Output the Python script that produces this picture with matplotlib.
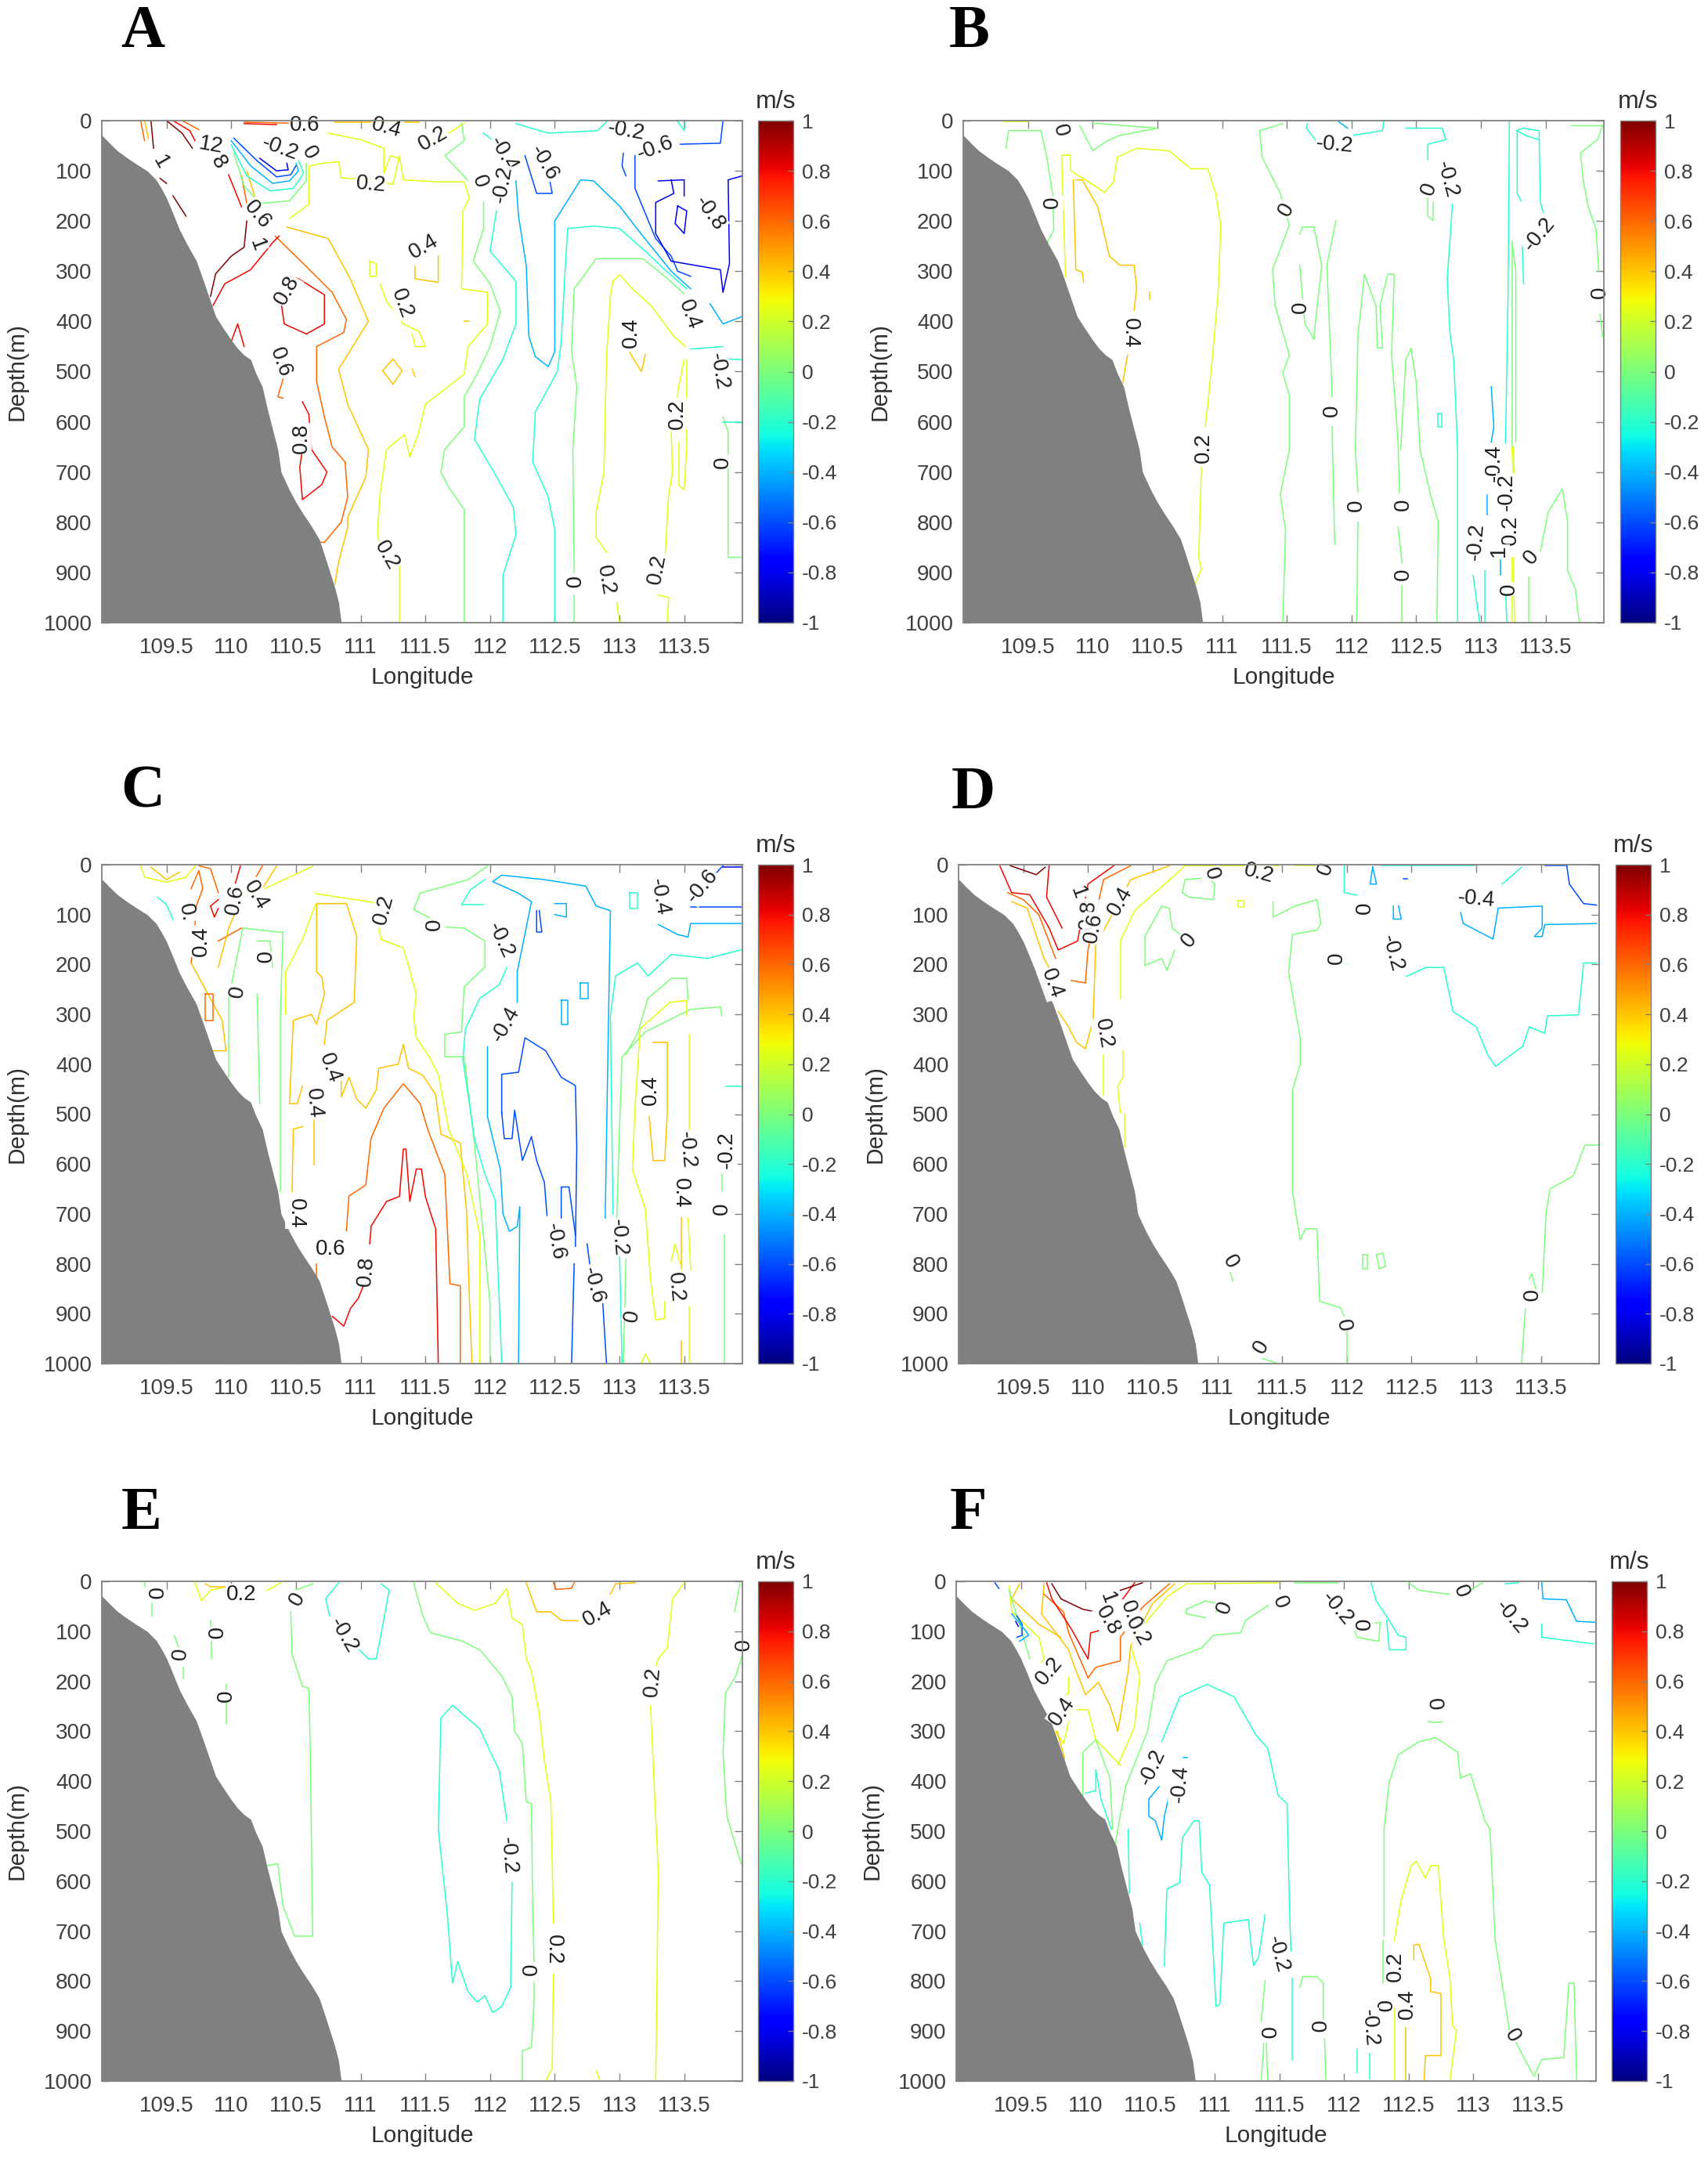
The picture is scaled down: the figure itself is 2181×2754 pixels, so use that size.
import matplotlib
matplotlib.use("Agg")
import matplotlib.pyplot as plt
from matplotlib.cm import ScalarMappable
from matplotlib.colors import Normalize

plt.rcParams['font.family'] = ['Liberation Sans', 'DejaVu Sans']

W, H = 2181, 2754
DPI = 100

lon_ticks = [109.5, 110, 110.5, 111, 111.5, 112, 112.5, 113, 113.5]
lon_tick_labels = ['109.5', '110', '110.5', '111', '111.5', '112', '112.5', '113', '113.5']
depth_ticks = [0, 100, 200, 300, 400, 500, 600, 700, 800, 900, 1000]
cbar_ticks = [-1, -0.8, -0.6, -0.4, -0.2, 0, 0.2, 0.4, 0.6, 0.8, 1]
cbar_tick_labels = ['-1', '-0.8', '-0.6', '-0.4', '-0.2', '0', '0.2', '0.4', '0.6', '0.8', '1']

# sea floor, same for every section
terrain_lon = [109.0, 109.06, 109.12, 109.2, 109.27, 109.35, 109.42, 109.46, 109.5, 109.55, 109.6, 109.66,
               109.73, 109.78, 109.84, 109.88, 109.94, 110.0, 110.05, 110.1, 110.15, 110.19, 110.24, 110.28,
               110.32, 110.36, 110.385, 110.45, 110.5, 110.55, 110.62, 110.68, 110.72, 110.76, 110.8, 110.83, 110.85]
terrain_depth = [29, 45, 60, 75, 87, 100, 118, 135, 154, 185, 217, 247,
                 279, 315, 360, 390, 414, 437, 454, 467, 476, 503, 530, 575,
                 615, 655, 700, 736, 760, 781, 808, 834, 865, 897, 930, 960, 1000]

# contour lines: (level, [(lon, depth), ...])
a_lines = [
    (0.2, [(110.45,195),(110.6,167),(110.6,91),(110.7,85),(110.83,82),(110.85,114),(111.1,118),(111.25,127),(111.3,70),(111.33,118),(111.6,122),(111.8,122),(111.84,154),(111.79,180),(111.78,335),(111.98,342),(111.98,405),(111.83,450),(111.8,505),(111.5,565),(111.45,620),(111.38,670),(111.34,625),(111.2,655),(111.15,745),(111.13,820),(111.15,850)]),
    (0.2, [(111.3,885),(111.3,1000)]),
    (0.2, [(110.75,25),(111.0,38),(111.18,55),(111.18,105),(111.23,70),(111.3,75)]),
    (0.2, [(111.5,55),(111.65,30),(111.8,5)]),
    (0.2, [(111.07,280),(111.12,285),(111.12,310),(111.07,310),(111.07,280)]),
    (0.2, [(111.15,325),(111.2,360),(111.33,405),(111.45,420),(111.5,450),(111.42,450),(111.4,425)]),
    (0.4, [(111.42,290),(111.42,315),(111.6,322),(111.6,270)]),
    (0.4, [(111.8,400),(111.84,400)]),
    (0.4, [(111.17,498),(111.25,475),(111.32,498),(111.25,525),(111.17,498)]),
    (0.4, [(111.4,495),(111.42,510)]),
    (0.4, [(110.43,212),(110.75,235),(110.92,315),(111.06,400),(110.83,495),(110.9,565),(111.06,655),(111.04,710),(110.9,790),(110.9,810),(110.83,879),(110.8,924)]),
    (0.6, [(110.34,230),(110.57,288),(110.78,342),(110.89,396),(110.87,422),(110.66,450),(110.66,520),(110.72,590),(110.78,650),(110.88,680),(110.9,750),(110.85,800),(110.72,840),(110.68,840)]),
    (0.6, [(110.4,515),(110.36,550),(110.4,553)]),
    (0.8, [(110.37,335),(110.41,405),(110.58,425),(110.72,405),(110.72,347),(110.52,315),(110.45,310)]),
    (0.8, [(110.55,560),(110.6,585),(110.62,655),(110.74,700),(110.7,725),(110.55,755),(110.53,690),(110.55,655)]),
    (0.8, [(109.86,368),(109.95,325),(110.15,297),(110.32,243),(110.37,230)]),
    (0.8, [(110.0,440),(110.05,405),(110.1,450)]),
    (1, [(109.84,350),(109.88,305),(110.0,270),(110.1,252),(110.12,200)]),
    (1, [(109.45,115),(109.5,125)]),
    (1, [(109.55,150),(109.65,190)]),
    (1, [(109.38,0),(109.4,55)]),
    (0.6, [(109.3,0),(109.33,40)]),
    (0.4, [(109.33,0),(109.36,35)]),
    (1, [(109.5,0),(109.62,25),(109.7,55)]),
    (0.8, [(109.55,0),(109.68,20),(109.72,40)]),
    (0.6, [(109.62,0),(109.75,18)]),
    (0.8, [(109.98,108),(110.08,172)]),
    (0.6, [(110.08,110),(110.12,165)]),
    (0.4, [(110.12,100),(110.18,150)]),
    (0.6, [(110.1,3),(110.45,5)]),
    (0.8, [(110.1,6),(110.35,8)]),
    (0.4, [(110.8,3),(111.45,3)]),
    (0, [(110.02,65),(110.1,130),(110.22,165),(110.45,160),(110.58,120),(110.58,85)]),
    (-0.2, [(110.0,48),(110.12,110),(110.3,140),(110.48,135),(110.56,105),(110.52,80)]),
    (-0.4, [(110.0,40),(110.15,90),(110.32,125),(110.45,120),(110.52,100),(110.5,85)]),
    (-0.6, [(110.02,35),(110.2,80),(110.35,112),(110.46,108),(110.5,90)]),
    (-0.8, [(110.22,75),(110.35,100),(110.44,98),(110.43,85)]),
    (0, [(111.78,5),(111.8,40),(111.65,70),(111.85,125)]),
    (0, [(111.95,163),(111.95,215),(111.87,280),(112.0,325),(112.08,380),(112.0,450),(111.9,505),(111.8,550),(111.8,610),(111.65,655),(111.62,700),(111.68,730),(111.8,775),(111.8,1000)]),
    (-0.2, [(112.05,180),(112.0,260),(112.2,320),(112.2,405),(112.1,475),(111.92,555),(111.88,635),(112.03,700),(112.18,770),(112.2,825),(112.1,905),(112.1,1000)]),
    (-0.2, [(111.95,25),(112.05,45),(112.1,60)]),
    (-0.4, [(112.2,120),(112.22,190),(112.28,290),(112.3,430),(112.35,470),(112.45,490),(112.5,460),(112.5,300),(112.5,200),(112.7,118),(112.8,120),(113.0,170),(113.15,220),(113.4,300),(113.55,335)]),
    (-0.2, [(113.52,335),(113.35,297),(113.2,260),(113.0,215),(112.8,210),(112.6,215),(112.58,300),(112.55,440),(112.52,500),(112.35,580),(112.33,680),(112.45,750),(112.5,815),(112.5,1000)]),
    (0, [(113.5,345),(113.35,310),(113.18,275),(112.82,275),(112.65,335),(112.63,460),(112.67,530),(112.64,655),(112.65,900)]),
    (0, [(112.65,945),(112.65,1000)]),
    (0.2, [(113.51,450),(113.42,430),(113.25,370),(113.1,335),(113.0,307),(112.95,320),(112.93,350),(112.9,470),(112.88,700),(112.82,780),(112.82,830),(112.9,860)]),
    (0.2, [(112.98,960),(113.0,1000)]),
    (0.4, [(113.08,462),(113.17,500),(113.2,465)]),
    (0.2, [(113.3,945),(113.38,950),(113.37,1000)]),
    (0.2, [(113.4,620),(113.41,700),(113.38,745),(113.35,880)]),
    (0.2, [(113.5,476),(113.45,540),(113.45,560)]),
    (0.2, [(113.46,640),(113.46,727),(113.5,735),(113.52,650),(113.52,476)]),
    (0, [(113.8,590),(113.84,620),(113.84,870),(113.95,870)]),
    (-0.2, [(113.55,455),(113.8,450)]),
    (-0.2, [(113.85,475),(113.95,476)]),
    (-0.2, [(113.8,600),(113.95,600)]),
    (-0.4, [(113.7,365),(113.8,405),(113.95,390)]),
    (-0.6, [(113.8,0),(113.78,45),(113.47,47)]),
    (-0.6, [(113.03,65),(113.02,90),(113.05,110)]),
    (-0.6, [(113.12,70),(113.12,135),(113.28,235),(113.4,270),(113.45,300),(113.55,310)]),
    (-0.8, [(113.4,118),(113.42,145),(113.28,163),(113.28,225),(113.4,280),(113.78,297),(113.8,342),(113.85,285),(113.84,118),(113.95,110)]),
    (-0.8, [(113.3,120),(113.5,118),(113.5,150)]),
    (-0.8, [(113.45,170),(113.43,205),(113.5,225),(113.52,180),(113.45,170)]),
    (-0.6, [(112.27,70),(112.36,145),(112.48,145),(112.44,90)]),
    (-0.2, [(112.2,6),(112.45,25),(112.83,20),(112.9,2)]),
    (-0.2, [(113.45,2),(113.5,20),(113.5,0)]),
]
a_labels = [
    ('0.6',110.57,9,0),('0.4',111.2,15,-15),('0.2',111.56,36,30),('-0.2',113.05,20,-10),('-0.6',113.28,55,20),
    ('-0.4',112.1,68,-60),('-0.6',112.42,84,-60),('0',111.92,122,-70),('-0.2',112.1,127,80),('0.2',111.08,128,-5),
    ('-0.8',113.7,185,-55),('12',109.84,50,-10),('8',109.9,83,-60),('1',109.45,83,-60),('-0.2',110.38,55,-20),
    ('0',110.6,65,-60),('0.6',110.2,188,-50),('1',110.2,248,-70),('0.4',111.49,252,30),('0.8',110.43,338,60),
    ('0.2',111.32,365,-70),('0.4',113.54,387,-70),('0.4',113.09,423,90),('0.6',110.38,481,-70),('-0.2',113.77,499,-80),
    ('0.2',113.45,584,90),('0.8',110.54,633,90),('0',113.8,680,90),('0.2',111.2,866,-60),('0',112.62,920,-90),
    ('0.2',112.89,915,-80),('0.2',113.29,893,80),
]

b_lines = [
    (0.2, [(109.79,311),(109.76,69),(109.83,69),(109.83,100),(110.0,127),(110.09,143),(110.16,123),(110.19,73),(110.34,55),(110.59,60),(110.76,96),(110.89,96),(110.95,145),(110.99,208),(110.97,342),(110.93,458),(110.89,566),(110.87,610)]),
    (0.2, [(110.84,691),(110.82,870),(110.84,893),(110.79,924)]),
    (0.4, [(109.87,118),(109.92,118),(110.04,172),(110.13,270),(110.21,288),(110.32,288),(110.34,333),(110.32,378)]),
    (0.4, [(110.27,467),(110.23,525)]),
    (0.4, [(109.85,118),(109.87,297),(109.92,302),(109.93,322)]),
    (0.4, [(110.44,342),(110.44,355)]),
    (0.2, [(109.3,2),(109.5,2)]),
    (0, [(109.33,55),(109.35,20),(109.6,20),(109.64,65),(109.69,145),(109.7,217),(109.64,248)]),
    (0, [(109.9,10),(109.96,40),(110.0,60),(110.1,42),(110.2,30),(110.5,15),(110.0,5)]),
    (0, [(111.29,20),(111.31,73),(111.45,145),(111.52,208),(111.39,297),(111.41,369),(111.52,467),(111.47,503),(111.52,548),(111.52,655),(111.45,745),(111.49,816),(111.47,1000)]),
    (0, [(111.29,20),(111.47,6)]),
    (0, [(111.6,226),(111.62,212),(111.71,212),(111.77,288),(111.72,405),(111.71,436),(111.64,405),(111.6,288)]),
    (0, [(111.88,199),(111.81,288),(111.84,476),(111.85,550)]),
    (0, [(111.85,610),(111.87,843)]),
    (0, [(112.04,1000),(112.05,800)]),
    (0, [(112.05,740),(112.03,655),(112.05,430),(112.1,306),(112.19,369),(112.2,453),(112.24,453),(112.22,369),(112.28,306),(112.33,306),(112.31,467),(112.36,640),(112.37,740)]),
    (0, [(112.38,655),(112.42,476),(112.46,453),(112.5,521),(112.53,655),(112.61,745),(112.67,799),(112.66,1000)]),
    (0, [(112.36,810),(112.39,880)]),
    (0, [(112.39,925),(112.39,1000)]),
    (0, [(112.59,155),(112.59,190),(112.63,199),(112.63,163)]),
    (-0.2, [(112.42,15),(112.7,15),(112.73,38),(112.59,47),(112.59,78)]),
    (-0.2, [(111.66,6),(111.65,15),(111.75,47)]),
    (-0.2, [(112.02,29),(112.24,20),(112.25,2)]),
    (-0.4, [(111.9,2),(111.97,15)]),
    (-0.2, [(112.78,167),(112.74,315),(112.76,422),(112.79,476),(112.82,655),(112.82,1000)]),
    (-0.2, [(112.67,584),(112.7,584),(112.7,610),(112.67,610),(112.67,584)]),
    (-0.2, [(113.22,0),(113.21,342),(113.19,642)]),
    (-0.2, [(113.19,930),(113.2,1000)]),
    (-0.2, [(113.28,20),(113.28,145),(113.31,160)]),
    (-0.2, [(113.32,252),(113.33,325)]),
    (-0.2, [(113.45,38),(113.46,163),(113.5,199)]),
    (-0.2, [(113.28,20),(113.32,15),(113.45,20),(113.45,38),(113.35,30),(113.28,20)]),
    (0.2, [(113.24,650),(113.25,710)]),
    (0.2, [(113.25,650),(113.26,710)]),
    (0, [(113.24,240),(113.24,650)]),
    (0, [(113.24,240),(113.27,300),(113.27,640)]),
    (0.2, [(113.24,870),(113.24,1000)]),
    (0.2, [(113.25,870),(113.26,1000)]),
    (-0.4, [(113.08,530),(113.1,610),(113.08,640)]),
    (-0.4, [(113.05,745),(113.05,785)]),
    (-0.4, [(113.15,875),(113.15,905)]),
    (-0.2, [(113.03,897),(113.03,1000)]),
    (-0.2, [(112.94,906),(112.99,1000)]),
    (0, [(113.37,1000),(113.37,910)]),
    (0, [(113.46,857),(113.52,780),(113.63,733),(113.67,800),(113.67,897),(113.73,933),(113.76,1000)]),
    (0, [(113.7,10),(113.94,10),(113.9,38),(113.77,64),(113.79,118),(113.83,172),(113.89,217),(113.91,300)]),
    (0, [(113.92,385),(113.94,430)]),
]
b_labels = [
    ('0',109.75,20,-75),('-0.2',111.87,48,-5),('-0.2',112.74,118,-75),('0',112.6,136,70),('0',109.69,163,90),
    ('0',111.5,178,60),('-0.2',113.45,226,50),('0',113.92,342,90),('0',111.61,371,90),('0.4',110.29,424,-90),
    ('0',111.85,577,90),('0.2',110.86,651,90),('-0.4',113.1,682,90),('-0.2',113.2,740,90),('0',112.04,767,90),
    ('0',112.4,765,90),('-0.2',112.96,839,85),('0.2',113.23,816,90),('1',113.14,857,90),('0',113.39,870,50),
    ('0',112.4,904,90),('0',113.22,933,90),
]

c_lines = [
    (0.8, [(110.78,905),(110.87,925),(110.92,890),(110.98,870),(111.02,845)]),
    (0.8, [(111.07,760),(111.08,730),(111.08,725),(111.2,675),(111.3,665),(111.33,570),(111.35,570),(111.38,675),(111.43,610),(111.47,610),(111.5,665),(111.58,730),(111.6,1000)]),
    (0.6, [(110.89,734),(110.91,664),(111.04,642),(111.08,549),(111.18,488),(111.33,439),(111.46,479),(111.52,532),(111.65,620),(111.69,840),(111.77,844),(111.77,1000)]),
    (0.6, [(110.66,840),(110.66,800)]),
    (0.4, [(110.55,444),(110.51,479),(110.45,479),(110.48,312),(110.62,300),(110.66,320),(110.72,259),(110.7,225),(110.66,215),(110.66,78),(110.89,78),(110.97,144),(110.95,276),(110.74,312),(110.72,360)]),
    (0.4, [(110.85,426),(110.85,466),(110.91,426),(110.97,470),(111.04,488),(111.12,452),(111.14,408),(111.29,400),(111.33,360),(111.37,408),(111.48,422),(111.58,461),(111.62,540),(111.77,558),(111.82,700),(111.84,866),(111.86,1000)]),
    (0.4, [(110.47,655),(110.48,530),(110.55,525)]),
    (0.4, [(110.64,505),(110.64,602)]),
    (0.2, [(109.98,65),(110.2,55),(110.63,3)]),
    (0.2, [(110.65,58),(111.08,75),(111.14,78)]),
    (0.2, [(111.14,127),(111.16,150),(111.33,167),(111.43,259),(111.41,303),(111.43,347),(111.53,385),(111.6,420),(111.68,530),(111.82,620),(111.92,740),(111.92,1000)]),
    (0.2, [(110.42,300),(110.42,215),(110.55,150),(110.65,80)]),
    (0, [(111.98,3),(111.83,30),(111.46,57),(111.41,90),(111.58,113)]),
    (0, [(111.65,125),(111.8,127),(111.96,153),(111.96,205),(111.8,245),(111.78,335),(111.65,340),(111.65,385),(111.8,385),(111.88,560),(112.0,880),(112.0,1000)]),
    (-0.2, [(111.96,30),(111.85,50),(111.78,80),(111.95,80)]),
    (-0.2, [(112.13,206),(112.07,241),(111.92,268),(111.81,329),(111.79,391),(111.88,549),(111.96,620),(112.04,673),(112.09,1000)]),
    (-0.4, [(112.21,276),(112.21,215),(112.32,74),(112.21,56),(112.02,34),(112.09,21),(112.42,30),(112.74,43),(112.82,83),(112.93,92),(112.91,391),(112.89,708)]),
    (-0.4, [(111.98,365),(111.98,505),(112.08,611),(112.1,700),(112.15,735),(112.21,725),(112.23,685),(112.22,1000)]),
    (-0.6, [(112.09,499),(112.09,420),(112.22,416),(112.27,347),(112.43,373),(112.55,426),(112.66,443),(112.67,567),(112.66,765)]),
    (-0.6, [(112.65,800),(112.63,1000)]),
    (-0.6, [(112.09,496),(112.11,549),(112.17,549),(112.19,492),(112.25,593),(112.32,545),(112.36,593),(112.42,637),(112.44,703)]),
    (-0.6, [(112.55,708),(112.55,646),(112.61,646),(112.66,743)]),
    (-0.4, [(112.7,237),(112.7,268),(112.76,268),(112.76,237),(112.7,237)]),
    (-0.4, [(112.55,272),(112.55,320),(112.6,320),(112.6,272),(112.55,272)]),
    (-0.6, [(112.36,92),(112.36,135),(112.4,135),(112.38,92)]),
    (-0.4, [(112.5,78),(112.59,78),(112.59,105),(112.5,100)]),
    (-0.2, [(113.08,56),(113.14,56),(113.14,88),(113.08,88),(113.08,56)]),
    (-0.2, [(113.95,170),(113.68,188),(113.4,180),(113.22,223),(113.14,197),(112.97,223),(112.93,303),(112.95,700)]),
    (-0.2, [(113.0,770),(113.02,1000)]),
    (-0.6, [(112.87,875),(112.9,1000)]),
    (-0.6, [(112.75,760),(112.77,800)]),
    (-0.4, [(113.3,120),(113.45,140),(113.53,145),(113.55,118),(113.95,118)]),
    (-0.6, [(113.55,85),(113.95,85)]),
    (-0.8, [(113.8,5),(113.95,5)]),
    (-0.6, [(113.8,2),(113.7,30)]),
    (-0.2, [(113.82,445),(113.95,445)]),
    (0, [(113.79,303),(113.78,285),(113.55,290),(113.2,335),(113.02,385),(113.0,530),(112.98,700),(112.97,745)]),
    (0, [(113.05,790),(113.03,1000)]),
    (0, [(113.81,1000),(113.81,743)]),
    (0, [(113.79,620),(113.79,655)]),
    (0, [(113.53,270),(113.52,228),(113.4,228),(113.22,268),(113.14,338),(113.05,380)]),
    (0.2, [(113.52,303),(113.52,272),(113.39,276),(113.16,329),(113.12,488),(113.1,611),(113.2,690),(113.24,831),(113.28,912),(113.35,910),(113.35,875)]),
    (0.4, [(113.26,356),(113.37,356),(113.37,496),(113.35,593),(113.26,593),(113.23,505)]),
    (0.2, [(113.54,340),(113.54,540)]),
    (0.4, [(113.48,708),(113.48,810)]),
    (0.2, [(113.53,708),(113.55,812)]),
    (0.2, [(113.4,795),(113.43,760),(113.47,800)]),
    (0.2, [(113.54,885),(113.54,1000)]),
    (0.4, [(113.48,955),(113.48,1000)]),
    (0.2, [(113.17,1000),(113.2,980),(113.24,1000)]),
    (0.2, [(109.3,3),(109.33,25),(109.5,35),(109.65,25),(109.72,3)]),
    (0.4, [(109.38,5),(109.5,30),(109.6,15)]),
    (0.6, [(109.75,2),(109.84,8),(109.9,56)]),
    (0.6, [(109.69,48),(109.75,12),(109.78,48),(109.73,83),(109.71,153),(109.69,197)]),
    (0.8, [(110.07,3),(110.03,39)]),
    (0.6, [(110.08,127),(109.9,153)]),
    (0.8, [(109.9,70),(109.84,83),(109.87,105),(109.9,88)]),
    (0.6, [(110.24,3),(110.2,21),(110.1,65)]),
    (0.4, [(110.35,3),(110.2,65)]),
    (0.4, [(109.9,206),(109.98,127),(110.07,74)]),
    (0.4, [(109.69,197),(109.93,312),(109.96,373),(109.86,373)]),
    (0.6, [(109.8,259),(109.8,312),(109.86,312),(109.86,259),(109.8,259)]),
    (0, [(109.98,426),(109.98,268),(110.09,127),(110.36,135),(110.4,135),(110.38,300),(110.38,655)]),
    (0, [(110.2,153),(110.3,153),(110.32,206)]),
    (0, [(110.2,259),(110.22,479)]),
    (-0.2, [(109.43,65),(109.5,80),(109.55,110)]),
]
c_labels = [
    ('0.',109.65,96,-80),('0.4',109.77,153,90),('0.6',110.03,70,80),('0.4',110.19,61,-60),('0.2',111.18,90,75),
    ('0',111.57,120,90),('-0.2',112.08,151,-65),('0',110.23,187,-90),('0',110.05,254,80),('-0.4',112.12,320,60),
    ('-0.4',113.31,65,-80),('-0.6',113.64,43,50),('0.4',110.76,408,-70),('0.4',110.64,479,-85),('0.4',113.24,452,90),
    ('-0.2',113.83,571,90),('-0.2',113.52,571,-85),('0.4',113.47,659,-90),('0',113.79,690,90),('0.4',110.5,699,-90),
    ('-0.6',112.5,756,-80),('-0.2',112.99,747,-85),('0.6',110.77,771,0),('0.8',111.04,815,85),('-0.6',112.8,844,-75),
    ('0.2',113.43,847,-85),('0',113.1,904,80),
]

d_lines = [
    (0, [(111.43,74),(111.43,105),(111.6,83),(111.77,70),(111.8,118),(111.77,131),(111.58,140),(111.55,215),(111.64,347),(111.64,400),(111.58,452),(111.58,655),(111.64,752),(111.68,730),(111.77,730),(111.79,875),(111.95,888),(111.98,905)]),
    (0, [(112.0,936),(112.0,1000)]),
    (0, [(110.73,56),(110.75,30),(110.92,26),(110.98,39),(110.97,70),(110.78,65),(110.73,56)]),
    (0, [(110.44,202),(110.44,144),(110.57,83),(110.63,88),(110.65,127),(110.73,144)]),
    (0, [(110.67,171),(110.61,212),(110.57,188),(110.44,202)]),
    (0, [(113.95,562),(113.84,562),(113.75,624),(113.57,650),(113.54,699),(113.51,857)]),
    (0, [(113.41,830),(113.43,820),(113.47,860)]),
    (0, [(113.38,890),(113.35,1000)]),
    (0, [(111.1,818),(111.12,835)]),
    (0, [(112.12,782),(112.16,782),(112.16,810),(112.12,810),(112.12,782)]),
    (0, [(112.23,782),(112.28,778),(112.3,805),(112.25,810),(112.23,782)]),
    (0, [(111.88,190),(112.0,200)]),
    (0, [(111.35,990),(111.47,1000)]),
    (-0.2, [(112.46,224),(112.61,206),(112.75,206),(112.82,294),(113.0,325),(113.09,382),(113.15,404),(113.36,364),(113.41,325),(113.53,338),(113.55,303),(113.79,301),(113.83,197),(113.93,197)]),
    (-0.4, [(112.88,96),(112.9,118),(113.13,149),(113.17,87),(113.51,83),(113.51,127),(113.45,144),(113.51,144),(113.53,120),(113.93,118)]),
    (-0.6, [(113.7,2),(113.72,39),(113.83,78),(113.93,81)]),
    (-0.6, [(113.53,2),(113.7,2)]),
    (-0.2, [(112.27,2),(112.98,2)]),
    (-0.4, [(112.2,5),(112.18,39),(112.23,39),(112.2,5)]),
    (-0.6, [(112.44,28),(112.47,28)]),
    (-0.4, [(112.36,83),(112.36,109),(112.42,109),(112.4,83)]),
    (-0.2, [(113.2,39),(113.35,5)]),
    (-0.2, [(111.98,3),(111.98,56),(112.08,61)]),
    (1, [(109.4,2),(109.6,20),(109.67,5)]),
    (0.8, [(109.7,2),(109.68,65),(109.8,127)]),
    (0.8, [(109.32,3),(109.41,56),(109.55,60),(109.7,127),(109.77,171),(109.92,153),(110.0,39),(110.2,2)]),
    (0.6, [(109.38,56),(109.5,70),(109.62,100),(109.75,188)]),
    (0.6, [(109.87,232),(109.98,237),(110.0,171),(110.12,30),(110.33,2)]),
    (0.4, [(109.41,74),(109.53,87),(109.66,188),(109.7,206)]),
    (0.4, [(109.77,294),(109.85,325),(109.91,356),(109.98,369),(110.04,312),(110.06,162),(110.33,30),(110.63,2)]),
    (0.2, [(110.25,153),(110.36,92),(110.65,26),(110.75,2),(111.47,2)]),
    (0.2, [(110.25,153),(110.25,268)]),
    (0.2, [(110.27,373),(110.27,426),(110.23,444),(110.25,497)]),
    (0.2, [(110.12,382),(110.12,461)]),
    (0.2, [(111.16,72),(111.2,72),(111.2,84),(111.16,84),(111.16,72)]),
    (0.2, [(111.6,2),(111.78,2)]),
    (0.2, [(110.28,500),(110.28,567)]),
]
d_labels = [
    ('1',109.92,56,-70),('0.8',110.0,100,85),('0.6',110.04,127,80),('0.4',110.25,74,60),('0',110.95,19,-75),
    ('0.2',111.32,17,-15),('0',111.84,8,70),('-0.4',113.0,70,-5),('0',112.14,87,90),('0',110.78,151,50),
    ('-0.2',112.35,178,-75),('0',111.92,187,90),('0.4',109.72,239,-70),('0.2',110.12,338,-80),('0',111.1,796,-60),
    ('0',113.39,864,-90),('0',111.97,923,-80),('0',111.34,967,60),
]

e_lines = [
    (0, [(109.33,0),(109.33,35)]),
    (0, [(109.39,44),(109.39,69)]),
    (0, [(109.84,78),(109.85,155)]),
    (0, [(109.56,108),(109.6,137)]),
    (0, [(109.63,172),(109.63,195)]),
    (0, [(109.96,206),(109.96,285)]),
    (0, [(110.63,5),(110.49,18)]),
    (0, [(110.46,61),(110.47,146),(110.55,210),(110.6,214),(110.61,325),(110.63,710),(110.49,710),(110.4,650),(110.36,565),(110.28,569)]),
    (-0.2, [(110.83,3),(110.73,35),(110.76,69)]),
    (-0.2, [(110.99,137),(111.06,155),(111.12,155),(111.16,103),(111.22,18),(111.16,5)]),
    (0, [(111.41,3),(111.48,69),(111.54,103),(111.79,120),(111.92,137),(112.09,189),(112.17,231),(112.19,300),(112.25,325),(112.28,441),(112.32,445),(112.33,667),(112.34,761)]),
    (0, [(112.34,804),(112.34,838),(112.32,932),(112.25,940),(112.25,1000)]),
    (0.2, [(111.58,3),(111.75,44),(111.88,58),(112.04,44),(112.13,14),(112.17,73),(112.25,87),(112.28,155),(112.32,180),(112.38,265),(112.42,359),(112.47,441),(112.49,684)]),
    (0.2, [(112.49,786),(112.48,974),(112.43,1000)]),
    (0.2, [(109.72,3),(109.77,39),(109.84,18),(109.96,11)]),
    (0.2, [(110.28,18),(110.38,3)]),
    (0.4, [(109.8,5),(109.84,11),(109.96,11)]),
    (0.4, [(112.28,3),(112.36,61),(112.47,61),(112.55,78),(112.68,79)]),
    (0.4, [(112.93,26),(112.97,5),(113.12,3)]),
    (0.6, [(112.49,3),(112.51,16),(112.63,14),(112.65,3)]),
    (0.2, [(113.5,3),(113.41,35),(113.39,86),(113.37,133),(113.3,155),(113.28,172)]),
    (0.2, [(113.24,249),(113.26,360),(113.3,582),(113.28,1000)]),
    (0.2, [(112.82,979),(112.85,1000)]),
    (0, [(113.93,5),(113.89,61)]),
    (0, [(113.95,146),(113.9,189),(113.82,223),(113.8,342),(113.83,470),(113.94,565)]),
    (-0.2, [(112.17,603),(112.16,812),(112.09,851),(112.02,863),(111.96,829),(111.9,842),(111.83,821),(111.75,761),(111.71,804),(111.67,667),(111.6,496),(111.62,274),(111.71,248),(111.92,295),(112.02,351),(112.07,377),(112.13,479)]),
]
e_labels = [
    ('0',109.39,25,-90),('0.2',110.08,26,0),('0',110.51,35,60),('-0.2',110.87,108,-60),('0.4',112.83,67,30),
    ('0',109.85,105,-90),('0',109.61,146,85),('0',113.92,129,-90),('0.2',113.26,201,85),('0',109.96,230,90),
    ('-0.2',112.14,549,-85),('0.2',112.49,737,-90),('0',112.32,776,90),
]

f_lines = [
    (-0.2, [(110.59,321),(110.73,231),(110.94,206),(111.15,231),(111.32,308),(111.41,334),(111.49,428),(111.56,445),(111.58,667),(111.59,740)]),
    (-0.2, [(111.6,795),(111.6,957)]),
    (-0.2, [(110.61,769),(110.63,616),(110.73,603),(110.75,513),(110.84,479),(110.88,479),(110.9,582),(110.96,608),(110.99,752),(111.01,851),(111.04,846),(111.07,684),(111.26,677),(111.3,769),(111.34,752),(111.39,667)]),
    (0, [(112.31,710),(112.31,496),(112.35,402),(112.42,347),(112.58,321),(112.71,313),(112.88,342),(112.9,394),(112.98,385),(113.09,479),(113.13,496),(113.17,718),(113.22,799),(113.28,898),(113.47,991),(113.53,957),(113.7,953),(113.74,804),(113.78,804),(113.8,1000)]),
    (0, [(112.3,718),(112.3,804)]),
    (0.2, [(112.39,718),(112.44,641),(112.52,569),(112.56,560),(112.63,594),(112.67,569),(112.73,569),(112.77,710),(112.82,795),(112.84,889),(112.87,898),(112.82,1000)]),
    (0.2, [(112.39,855),(112.39,1000)]),
    (0.4, [(112.54,757),(112.54,728),(112.58,726),(112.67,795),(112.67,821),(112.75,825),(112.75,949),(112.63,949),(112.62,1000)]),
    (0.4, [(112.48,893),(112.48,1000)]),
    (0, [(111.39,799),(111.36,880)]),
    (0, [(111.38,925),(111.36,1000)]),
    (0, [(111.4,925),(111.41,1000)]),
    (0, [(111.66,812),(111.68,791),(111.79,791),(111.84,804),(111.84,880)]),
    (0, [(111.85,915),(111.86,1000)]),
    (-0.2, [(112.1,936),(112.1,983)]),
    (-0.2, [(112.2,945),(112.2,995)]),
    (-0.2, [(110.42,684),(110.44,727)]),
    (0, [(110.78,56),(110.93,39),(111.01,44),(111.01,61)]),
    (0, [(110.93,73),(110.78,65),(110.78,56)]),
    (0, [(110.23,526),(110.31,411),(110.48,300),(110.54,206),(110.63,159),(110.9,133),(110.99,108),(111.2,103),(111.24,78),(111.39,52),(111.47,39)]),
    (0, [(111.62,3),(111.95,3)]),
    (0, [(112.5,3),(112.58,18),(112.82,26)]),
    (0, [(112.98,18),(113.07,3)]),
    (0.2, [(110.25,368),(110.38,291),(110.42,189),(110.35,129),(110.48,78),(110.63,31),(110.78,5),(111.49,3)]),
    (0.2, [(110.27,368),(110.08,317),(110.02,257),(109.89,257),(109.83,325),(109.77,300)]),
    (0.2, [(109.87,193),(109.87,223),(109.83,231)]),
    (0.4, [(110.25,300),(110.19,249),(110.1,202),(110.0,227),(109.91,167),(109.87,137),(109.66,65),(109.68,5)]),
    (0.4, [(110.25,300),(110.33,180),(110.35,129),(110.52,44),(110.69,5)]),
    (0.6, [(110.02,193),(109.87,103),(109.83,61),(109.68,26)]),
    (0.6, [(110.02,193),(110.08,172),(110.27,159),(110.27,112),(110.44,52),(110.65,5)]),
    (0.8, [(110.02,155),(109.98,137),(109.89,95),(109.74,35),(109.7,3)]),
    (0.8, [(110.02,155),(110.04,103),(110.1,99)]),
    (0.8, [(110.29,35),(110.38,3)]),
    (1, [(109.74,5),(109.81,35),(109.98,56),(110.08,61)]),
    (1, [(110.27,18),(110.44,3)]),
    (0.2, [(109.41,9),(109.43,61),(109.64,112),(109.68,155),(109.66,163)]),
    (0.4, [(109.49,5),(109.43,35),(109.64,86),(109.81,112)]),
    (0, [(109.41,18),(109.57,155)]),
    (-0.6, [(109.47,69),(109.51,86),(109.51,108),(109.47,112)]),
    (-0.4, [(109.43,65),(109.54,100),(109.56,108),(109.49,120)]),
    (-0.8, [(109.46,80),(109.48,90)]),
    (-0.6, [(109.3,3),(109.33,14)]),
    (0, [(109.98,428),(109.98,342),(110.08,317),(110.19,394),(110.21,496)]),
    (-0.2, [(110.0,424),(110.08,419),(110.08,377),(110.12,436),(110.2,496)]),
    (0.2, [(109.76,300),(109.83,360)]),
    (0.4, [(109.78,300),(109.84,355)]),
    (-0.2, [(110.33,496),(110.34,624)]),
    (-0.4, [(110.65,424),(110.61,471),(110.59,518),(110.54,479),(110.49,470),(110.49,436),(110.57,411)]),
    (-0.4, [(110.76,353),(110.79,353)]),
    (-0.2, [(112.21,3),(112.25,39),(112.35,78),(112.42,108),(112.48,112),(112.48,137),(112.35,137),(112.33,78)]),
    (0, [(112.08,95),(112.1,112),(112.27,120),(112.28,82),(112.2,86)]),
    (-0.2, [(113.53,86),(113.53,112),(113.93,125)]),
    (-0.2, [(113.25,5),(113.35,3)]),
    (-0.4, [(113.53,3),(113.54,35),(113.72,37),(113.8,80),(113.94,82)]),
    (0, [(112.65,280),(112.7,283),(112.76,281)]),
]
f_labels = [
    ('1',110.17,35,-70),('0.8',110.17,78,-60),('0.6',110.35,69,-70),('0.2',110.4,100,-60),('0',111.08,52,70),
    ('0',111.5,42,-70),('-0.2',111.95,54,-50),('0',112.16,85,90),('0',112.9,20,-70),('-0.2',113.29,72,-50),
    ('0.2',109.72,180,50),('0.4',109.82,261,55),('0',112.69,246,-85),('-0.2',110.52,372,65),('-0.4',110.73,405,85),
    ('-0.2',111.49,747,-75),('0.2',112.4,771,90),('0.4',112.49,846,90),('0',112.29,851,-90),('-0.2',112.2,893,-85),
    ('0',111.39,904,-90),('0',111.78,891,-90),('0',113.3,910,-60),
]

panel_names = ['A', 'B', 'C', 'D', 'E', 'F']
panel_lines = [a_lines, b_lines, c_lines, d_lines, e_lines, f_lines]
panel_labels = [a_labels, b_labels, c_labels, d_labels, e_labels, f_labels]

# pixel layout of each panel: axes left/right, top/bottom, colorbar left/right
boxes = [
    (130, 948, 154, 795, 968, 1013),
    (1230, 2048, 154, 795, 2069, 2114),
    (130, 948, 1104, 1741, 968, 1013),
    (1224, 2042, 1104, 1741, 2063, 2108),
    (130, 948, 2019, 2657, 968, 1013),
    (1221, 2038, 2019, 2657, 2058, 2103),
]
letter_pos = [(182, 41), (1238, 41), (182, 1012), (1243, 1013), (181, 1933), (1236, 1933)]
ylabel_x = [22, 1124, 22, 1117, 22, 1113]

TICK_GREY = '#404040'
EDGE_GREY = '#808080'
cmap = plt.cm.jet
norm = Normalize(-1, 1)


def px_axes(fig, left, right, top, bottom):
    return fig.add_axes([left / W, 1 - bottom / H, (right - left) / W, (bottom - top) / H])


def level_color(level):
    # the 0.2 lines read a bit more yellow than plain jet gives
    if level == 0.2:
        level = 0.25
    return cmap(norm(level))


def draw_panel(ax, lines, labels):
    ax.fill_betweenx(terrain_depth, 109, terrain_lon, color='#808080', lw=0, zorder=3)
    for level, pts in lines:
        xs = [p[0] for p in pts]
        ys = [p[1] for p in pts]
        ax.plot(xs, ys, color=level_color(level), lw=1.1, zorder=2)
    for txt, lon, depth, rot in labels:
        ax.text(lon, depth, txt, rotation=rot, fontsize=20, color='#202020', ha='center', va='center',
                rotation_mode='anchor', zorder=4, clip_on=False,
                bbox=dict(facecolor='white', edgecolor='none', pad=0.6, alpha=0.9))
    ax.set_xlim(109, 113.95)
    ax.set_ylim(1000, 0)
    ax.set_xticks(lon_ticks)
    ax.set_xticklabels(lon_tick_labels)
    ax.set_yticks(depth_ticks)
    ax.tick_params(direction='in', top=True, right=True, length=7, width=1, color=EDGE_GREY,
                   labelsize=20, labelcolor=TICK_GREY)
    ax.tick_params(axis='x', pad=14)
    ax.tick_params(axis='y', pad=9)
    for s in ax.spines.values():
        s.set_color(EDGE_GREY)
        s.set_linewidth(1.3)
        s.set_zorder(5)


fig = plt.figure(figsize=(W / DPI, H / DPI), dpi=DPI, facecolor='white')

for i, name in enumerate(panel_names):
    left, right, top, bottom, cb_left, cb_right = boxes[i]
    ax = px_axes(fig, left, right, top, bottom)
    draw_panel(ax, panel_lines[i], panel_labels[i])

    cax = px_axes(fig, cb_left, cb_right, top, bottom)
    cb = fig.colorbar(ScalarMappable(norm=norm, cmap=cmap), cax=cax, ticks=cbar_ticks)
    cb.ax.set_yticklabels(cbar_tick_labels)
    cb.ax.tick_params(direction='in', length=5, width=1, color=EDGE_GREY, labelsize=19,
                      labelcolor=TICK_GREY, pad=8)
    cb.outline.set_edgecolor(EDGE_GREY)
    cb.outline.set_linewidth(1)

    fig.text((cb_left + cb_right) / 2 / W, 1 - (top - 24) / H, 'm/s', fontsize=23, color='#303030',
             ha='center', va='center')
    fig.text((left + right) / 2 / W, 1 - (bottom + 70) / H, 'Longitude', fontsize=21.5, color='#303030',
             ha='center', va='center')
    fig.text(ylabel_x[i] / W, 1 - (top + bottom) / 2 / H, 'Depth(m)', fontsize=21.5, color='#303030',
             rotation=90, ha='center', va='center')
    lx, ly = letter_pos[i]
    fig.text(lx / W, 1 - ly / H, name, fontsize=56, fontweight='bold', family='Liberation Serif',
             color='black', ha='center', va='center')

fig.savefig('out.png', dpi=DPI)
